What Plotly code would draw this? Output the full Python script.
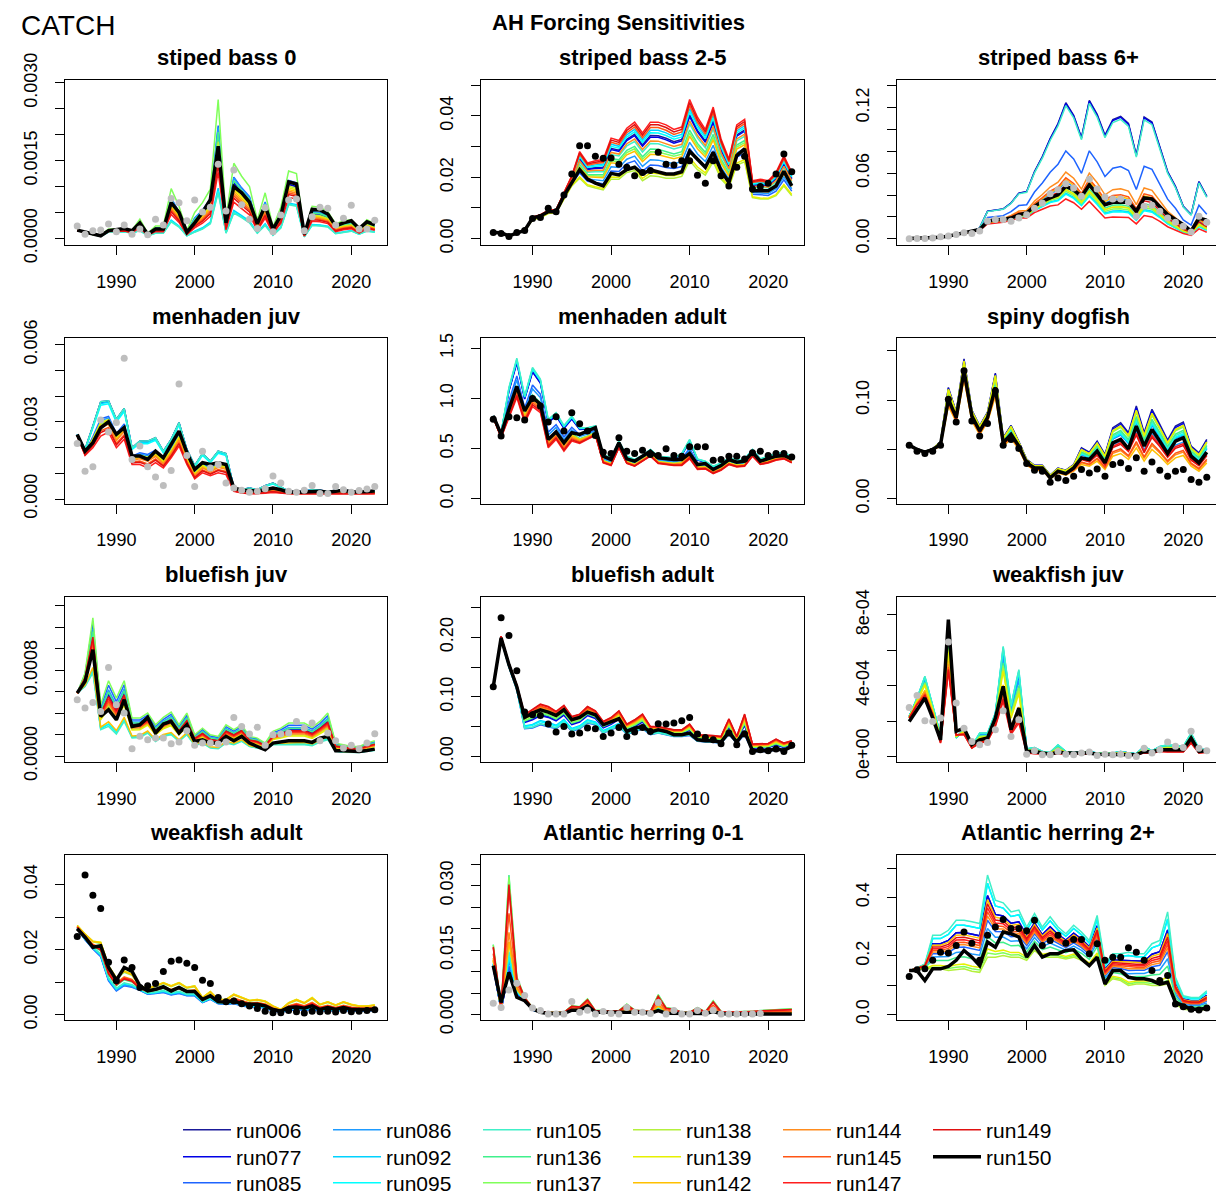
import plotly.graph_objects as go

# ---------------- data ----------------
years = list(range(1985, 2024))

runs = ["run006", "run077", "run085", "run086", "run092", "run095", "run105", "run136",
        "run137", "run138", "run139", "run142", "run144", "run145", "run147", "run149"]
base_run = "run150"

panel_titles = ["stiped bass 0", "striped bass 2-5", "striped bass 6+",
                "menhaden juv", "menhaden adult", "spiny dogfish",
                "bluefish juv", "bluefish adult", "weakfish juv",
                "weakfish adult", "Atlantic herring 0-1", "Atlantic herring 2+"]

# striped bass 0
sb0_obs = [0.00024,0.00008,0.00015,0.00016,0.00028,0.00013,0.00026,0.00008,0.00018,0.00007,
           0.00037,0.00026,0.00077,0.00069,0.00034,0.00074,0.00051,0.0006,0.00143,0.00053,
           0.00132,0.00065,0.00037,0.00019,0.00059,0.00013,0.00045,0.00074,0.00076,0.00015,
           0.00042,0.0006,0.00058,0.00026,0.00039,0.00064,0.00018,0.00018,0.00035]
sb0_base = [0.00016,0.00012,0.00008,0.00005,0.00015,0.00017,0.00019,0.00015,0.0003,0.00008,
            0.00018,0.00018,0.00069,0.0005,0.00012,0.0003,0.0005,0.00075,0.00178,0.0003,
            0.001,0.00088,0.0007,0.00028,0.00063,0.00018,0.00044,0.00109,0.00105,0.00008,
            0.00056,0.00055,0.00047,0.00024,0.0003,0.00034,0.00019,0.00032,0.00026]
sb0_hi = [0.00016,0.00012,0.00008,0.00006,0.00018,0.00018,0.00018,0.00016,0.00037,0.0001,
          0.00024,0.00024,0.00096,0.00062,0.00015,0.0005,0.00069,0.00095,0.00268,0.0004,
          0.00145,0.0012,0.001,0.00035,0.00088,0.00022,0.0006,0.0013,0.00125,0.0001,
          0.00062,0.0006,0.00052,0.00028,0.00034,0.00036,0.00018,0.00036,0.00028]
sb0_lo = [0.00015,0.00011,0.00007,0.00004,0.00012,0.00012,0.00013,0.0001,0.00015,0.00005,
          0.0001,0.0001,0.00032,0.00022,0.00005,0.00012,0.00018,0.00028,0.00088,0.0001,
          0.00049,0.0004,0.0003,0.0001,0.00025,0.00006,0.0002,0.00065,0.00062,0.00003,
          0.00025,0.00024,0.00022,0.00009,0.00012,0.00014,0.00008,0.00014,0.00012]
sb0_pos = [0.6,0.62,0.72,0.7,0.05,0.02,0.0,0.65,1.0,0.55,0.5,0.45,0.4,0.35,0.22,0.3]

# striped bass 2-5
sb25_obs = [0.002,0.0017,0.0007,0.002,0.0027,0.0066,0.0069,0.0099,0.0088,0.0142,
            0.0211,0.0303,0.0303,0.0269,0.0262,0.0263,0.0243,0.0233,0.0205,0.0216,
            0.0222,0.0282,0.0243,0.024,0.0254,0.0254,0.0207,0.0181,0.0254,0.0205,
            0.0172,0.0233,0.0269,0.0162,0.017,0.0181,0.0211,0.0276,0.0218]
sb25_base = [0.002,0.0019,0.0009,0.0019,0.0027,0.0067,0.0074,0.0088,0.0088,0.014,
             0.0183,0.0225,0.0194,0.0181,0.0172,0.0213,0.0208,0.0225,0.0233,0.0211,
             0.0224,0.0216,0.0211,0.0211,0.0218,0.0285,0.0258,0.0233,0.0282,0.0222,
             0.0183,0.0271,0.0293,0.0156,0.0156,0.0156,0.0172,0.022,0.0172]
sb25_hi = [0.002,0.0019,0.001,0.002,0.0028,0.007,0.0078,0.0092,0.0095,0.015,
           0.0205,0.0284,0.0247,0.0254,0.0258,0.0328,0.032,0.036,0.038,0.0345,
           0.038,0.038,0.0371,0.0356,0.0364,0.0454,0.0396,0.0356,0.0429,0.0325,
           0.026,0.0371,0.0389,0.0189,0.0194,0.0189,0.0216,0.027,0.0216]
sb25_lo = [0.0019,0.0018,0.0008,0.0018,0.0025,0.0062,0.0068,0.0082,0.0085,0.0129,
           0.0172,0.0197,0.0172,0.0165,0.0159,0.0194,0.0194,0.0216,0.0222,0.0189,
           0.0205,0.0203,0.0197,0.0197,0.0203,0.0254,0.0225,0.0207,0.0251,0.0194,
           0.0167,0.024,0.0251,0.0134,0.0129,0.0129,0.014,0.0172,0.014]
sb25_pos = [0.75,0.72,0.2,0.3,0.85,0.8,0.6,0.5,0.45,0.0,0.05,0.4,0.65,0.9,1.0,0.95]

# striped bass 6+
sb6_obs = [0.0,0.0003,0.0003,0.0006,0.0018,0.0024,0.0039,0.0055,0.0048,0.007,
           0.016,0.0176,0.0176,0.016,0.019,0.022,0.028,0.0327,0.0412,0.0448,
           0.0503,0.0464,0.0388,0.0545,0.0455,0.0382,0.0364,0.0364,0.0333,0.0206,
           0.0297,0.0306,0.0252,0.019,0.0152,0.0115,0.0061,0.0206,0.0152]
sb6_base = [0.0003,0.0004,0.0006,0.0009,0.0013,0.0024,0.004,0.0055,0.0064,0.0085,
            0.016,0.0176,0.0176,0.019,0.022,0.0236,0.0297,0.0342,0.0373,0.0403,
            0.0479,0.0448,0.0388,0.0494,0.0403,0.0312,0.0333,0.0333,0.0336,0.0252,
            0.0373,0.0364,0.0297,0.0221,0.0176,0.013,0.007,0.019,0.017]
sb6_hi = [0.0003,0.0004,0.0006,0.0009,0.0013,0.0024,0.004,0.0055,0.0064,0.01,
          0.0252,0.0261,0.0273,0.0327,0.0418,0.0433,0.0615,0.0752,0.0918,0.1055,
          0.1245,0.113,0.0927,0.1267,0.1139,0.0948,0.1091,0.1121,0.1055,0.0767,
          0.1115,0.107,0.0842,0.0615,0.0479,0.0297,0.0221,0.0524,0.0388]
sb6_lo = [0.0003,0.0004,0.0006,0.0009,0.0013,0.0024,0.0038,0.005,0.006,0.0075,
          0.0136,0.0145,0.015,0.017,0.019,0.019,0.024,0.027,0.03,0.031,
          0.0364,0.033,0.027,0.0342,0.027,0.019,0.02,0.02,0.0195,0.0136,
          0.0212,0.02,0.016,0.011,0.008,0.0048,0.003,0.009,0.006]
sb6_pos = [1.0,0.99,0.5,0.18,0.06,0.05,0.97,0.12,0.08,0.1,0.1,0.2,0.28,0.22,0.0,0.15]

# menhaden juv
mj_obs = [0.00216,0.00108,0.00125,0.00307,0.0026,0.00297,0.00547,0.00154,0.00206,0.00125,
          0.00086,0.00053,0.00111,0.00447,0.00169,0.00049,0.00186,0.00121,0.00134,0.00062,
          0.00043,0.00034,0.00026,0.0003,0.0004,0.00089,0.00062,0.0003,0.00026,0.00034,
          0.00053,0.00021,0.00021,0.00049,0.00036,0.00026,0.00033,0.00039,0.00049]
mj_base = [0.00251,0.00186,0.00219,0.00277,0.003,0.00251,0.00277,0.00167,0.00167,0.00154,
           0.00186,0.0016,0.00212,0.00264,0.0018,0.00115,0.00141,0.00134,0.00141,0.00134,
           0.00043,0.00034,0.00033,0.00031,0.00036,0.00043,0.00036,0.00027,0.00026,0.00027,
           0.0003,0.0003,0.00026,0.0003,0.00034,0.00027,0.00027,0.00029,0.00031]
mj_hi = [0.00251,0.00193,0.00284,0.00378,0.00382,0.0031,0.00352,0.00199,0.00225,0.00225,
         0.00238,0.00186,0.00232,0.00297,0.00193,0.0013,0.00177,0.00147,0.00186,0.00177,
         0.00043,0.00036,0.00043,0.00036,0.00052,0.00062,0.00047,0.0003,0.00027,0.0003,
         0.00036,0.00034,0.00029,0.00034,0.00036,0.00029,0.00027,0.00029,0.0003]
mj_lo = [0.00245,0.00169,0.00199,0.00245,0.0026,0.00199,0.00232,0.00134,0.00134,0.00121,
         0.00141,0.00121,0.0016,0.00206,0.00134,0.00078,0.00102,0.00091,0.00102,0.00095,
         0.0003,0.00023,0.0002,0.0002,0.00022,0.00025,0.00022,0.0002,0.0002,0.0002,
         0.0002,0.0002,0.0002,0.0002,0.0002,0.0002,0.0002,0.0002,0.0002]
mj_pos = [1.0,0.98,0.5,0.45,0.95,0.9,1.0,0.35,0.35,0.4,0.38,0.3,0.25,0.15,0.0,0.1]

# menhaden adult
ma_obs = [0.792,0.625,0.818,0.808,0.785,0.999,0.925,0.765,0.818,0.675,
          0.858,0.748,0.675,0.631,0.464,0.451,0.608,0.474,0.451,0.484,
          0.441,0.431,0.498,0.431,0.424,0.518,0.518,0.518,0.384,0.391,
          0.424,0.424,0.397,0.458,0.474,0.431,0.451,0.451,0.417]
ma_base = [0.825,0.641,0.892,1.119,0.875,1.009,0.942,0.591,0.665,0.558,
           0.658,0.641,0.675,0.708,0.424,0.391,0.558,0.397,0.374,0.424,
           0.474,0.407,0.397,0.391,0.391,0.451,0.341,0.351,0.291,0.331,
           0.391,0.364,0.374,0.464,0.374,0.397,0.424,0.431,0.397]
ma_hi = [0.825,0.658,1.109,1.4,1.025,1.309,1.192,0.792,0.858,0.731,
         0.825,0.708,0.708,0.725,0.441,0.407,0.574,0.424,0.391,0.431,
         0.491,0.424,0.417,0.407,0.451,0.591,0.397,0.374,0.324,0.357,
         0.407,0.384,0.397,0.491,0.397,0.424,0.451,0.458,0.424]
ma_lo = [0.808,0.608,0.808,1.009,0.758,0.918,0.858,0.508,0.591,0.474,
         0.574,0.551,0.591,0.631,0.357,0.331,0.508,0.351,0.324,0.374,
         0.424,0.351,0.341,0.331,0.331,0.397,0.291,0.297,0.251,0.284,
         0.341,0.317,0.324,0.424,0.341,0.357,0.384,0.397,0.357]
ma_pos = [0.9,0.88,0.55,0.45,0.97,0.95,1.0,0.3,0.25,0.25,0.2,0.22,0.15,0.1,0.0,0.05]

# spiny dogfish
sd_obs = [0.0544,0.0483,0.0459,0.0483,0.0544,0.101,0.0779,0.13,0.0789,0.0636,
          0.0765,0.1095,0.0544,0.0602,0.051,0.0357,0.0289,0.0279,0.0167,0.0211,
          0.0184,0.0228,0.0296,0.0262,0.0303,0.0228,0.0347,0.0364,0.0306,0.0415,
          0.0279,0.0374,0.0289,0.0228,0.0279,0.0296,0.0194,0.0167,0.0218]
sd_base = [0.0544,0.05,0.0473,0.05,0.0551,0.101,0.0823,0.13,0.084,0.0687,
           0.0823,0.113,0.0568,0.0653,0.0534,0.0364,0.0313,0.0313,0.0211,0.0279,
           0.0255,0.0313,0.0415,0.0398,0.0483,0.0364,0.0568,0.0602,0.0507,0.0738,
           0.0534,0.0704,0.0585,0.0459,0.0585,0.0619,0.0432,0.0364,0.0473]
sd_hi = [0.0548,0.0505,0.048,0.0508,0.058,0.113,0.088,0.142,0.09,0.074,
         0.088,0.1276,0.062,0.0745,0.058,0.04,0.034,0.034,0.024,0.031,
         0.029,0.0347,0.0517,0.0473,0.0585,0.0449,0.0721,0.0772,0.067,0.0942,
         0.067,0.0908,0.0755,0.0595,0.0738,0.0779,0.0534,0.0466,0.0602]
sd_lo = [0.054,0.0495,0.0468,0.0495,0.053,0.094,0.078,0.121,0.079,0.065,
         0.078,0.104,0.053,0.061,0.05,0.034,0.029,0.029,0.02,0.026,
         0.024,0.028,0.0347,0.033,0.0381,0.0296,0.0432,0.0459,0.0398,0.0517,
         0.0381,0.05,0.0432,0.0347,0.0415,0.0439,0.033,0.0279,0.0364]
sd_pos = [1.0,0.95,0.6,0.4,0.62,0.65,0.7,0.75,0.85,0.88,0.9,0.0,0.1,0.15,0.35,0.3]

# bluefish juv
bj_obs = [0.000526,0.000448,0.0005,0.000417,0.000827,0.000479,0.000401,0.000068,0.000184,0.000152,
          0.000168,0.000168,0.000115,0.000131,0.000236,0.0001,0.000121,0.000121,0.000112,0.000131,
          0.000361,0.000277,0.000205,0.000268,0.0001,0.000199,0.000205,0.000215,0.000323,0.000261,
          0.000308,0.000143,0.000215,0.000143,0.000075,0.0001,0.000068,0.000121,0.000208]
bj_base = [0.000588,0.000697,0.000992,0.00037,0.000432,0.000339,0.000526,0.000277,0.000292,0.000361,
           0.000215,0.000299,0.000323,0.000215,0.000292,0.000137,0.000152,0.000121,0.000121,0.000184,
           0.000143,0.000184,0.000121,0.00009,0.000059,0.000121,0.000131,0.000143,0.000143,0.000143,
           0.000128,0.000168,0.000184,0.00005,0.00005,0.000044,0.000044,0.000053,0.000065]
bj_hi = [0.000588,0.000775,0.00129,0.000479,0.000703,0.000541,0.000703,0.000355,0.000355,0.000401,
         0.000292,0.000361,0.000411,0.000292,0.000401,0.000199,0.000261,0.000199,0.000184,0.000292,
         0.000246,0.000292,0.000184,0.000168,0.000121,0.00023,0.000261,0.000308,0.000308,0.000308,
         0.000268,0.000323,0.000401,0.000121,0.000106,0.00009,0.00009,0.000121,0.000143]
bj_lo = [0.000588,0.00065,0.000775,0.000246,0.000277,0.000205,0.000323,0.000168,0.000174,0.000215,
         0.000137,0.000184,0.000199,0.000137,0.000199,0.0001,0.000121,0.000075,0.000068,0.000121,
         0.000106,0.000137,0.00009,0.000075,0.000059,0.000106,0.000106,0.000106,0.000106,0.000106,
         0.000096,0.000131,0.000152,0.000044,0.000037,0.000034,0.000034,0.000044,0.000053]
bj_pos = [0.7,0.68,0.9,0.8,0.05,0.05,0.0,0.75,1.0,0.45,0.4,0.1,0.5,0.55,0.6,0.65]

# bluefish adult
ba_obs = [0.117,0.233,0.203,0.144,0.0744,0.0699,0.0688,0.0542,0.0408,0.0503,
          0.0375,0.0391,0.0475,0.0464,0.0336,0.0391,0.0487,0.0336,0.0408,0.0487,
          0.0419,0.0548,0.0542,0.0559,0.0598,0.0654,0.0375,0.0319,0.028,0.0213,
          0.0391,0.0196,0.0375,0.0084,0.0112,0.0095,0.0123,0.0084,0.0185]
ba_base = [0.117,0.199,0.154,0.117,0.0654,0.0727,0.0783,0.0744,0.0688,0.0783,
           0.0615,0.0654,0.0744,0.0699,0.0531,0.0576,0.0632,0.0419,0.0475,0.0503,
           0.0408,0.0447,0.0419,0.0364,0.0364,0.0391,0.028,0.0263,0.0263,0.024,
           0.0408,0.024,0.0419,0.0095,0.0095,0.0095,0.0129,0.0101,0.0168]
ba_hi = [0.117,0.202,0.156,0.12,0.07,0.0783,0.0878,0.0839,0.0755,0.0856,
         0.0671,0.071,0.0839,0.0766,0.0587,0.0654,0.0766,0.0542,0.0615,0.071,
         0.0503,0.0503,0.0475,0.0447,0.0447,0.0542,0.0364,0.0364,0.0352,0.0336,
         0.0632,0.0336,0.071,0.0207,0.0207,0.0218,0.0291,0.0224,0.0263]
ba_lo = [0.117,0.197,0.15,0.112,0.0464,0.0475,0.0531,0.0503,0.0464,0.0559,
         0.0419,0.0464,0.0559,0.0531,0.0391,0.0447,0.0503,0.0375,0.0408,0.0464,
         0.0364,0.0391,0.0364,0.0336,0.0336,0.0352,0.0252,0.024,0.0235,0.0224,
         0.0364,0.0224,0.0364,0.0084,0.0084,0.0084,0.0112,0.0089,0.0151]
ba_pos = [0.5,0.45,0.0,0.05,0.2,0.15,0.05,0.55,0.6,0.7,0.75,0.8,0.85,0.9,0.97,1.0]

# weakfish juv
wj_obs = [0.000277,0.000345,0.000202,0.000198,0.000217,0.000647,0.000302,0.00016,0.000085,0.000066,
          0.000079,0.000151,0.000258,0.000113,0.000208,0.000013,0.000032,0.000009,0.000009,0.000028,
          0.000013,0.000009,0.000019,0.000025,0.000006,0.000013,0.000009,0.000013,0.000006,0.0,
          0.000047,0.000019,0.000038,0.000081,0.000057,0.000051,0.000142,0.000047,0.000032]
wj_base = [0.000198,0.000264,0.00033,0.000217,0.000094,0.000774,0.000142,0.00016,0.000066,0.000094,
           0.000104,0.000217,0.000396,0.000151,0.000274,0.000028,0.000028,0.000019,0.000013,0.000025,
           0.000019,0.000019,0.000019,0.000019,0.000013,0.000013,0.000013,0.000013,0.000013,0.000009,
           0.000028,0.000025,0.000038,0.000038,0.000038,0.000038,0.000104,0.000028,0.000032]
wj_hi = [0.000226,0.00033,0.000453,0.000283,0.000123,0.000679,0.000104,0.000157,0.000057,0.000132,
         0.000132,0.000245,0.000623,0.000292,0.000491,0.000043,0.000051,0.000028,0.000023,0.000066,
         0.000028,0.000023,0.000025,0.000028,0.000019,0.000019,0.000019,0.000028,0.000019,0.000015,
         0.000057,0.000032,0.000057,0.000066,0.000062,0.000057,0.000132,0.000043,0.000038]
wj_lo = [0.000217,0.000292,0.00034,0.000236,0.000075,0.000481,0.000123,0.000123,0.000047,0.000075,
         0.000085,0.00017,0.000311,0.000123,0.000189,0.000019,0.000015,0.000015,0.000012,0.000015,
         0.000015,0.000015,0.000015,0.000015,0.000012,0.000012,0.000012,0.000012,0.000012,0.000009,
         0.000019,0.000018,0.000028,0.000025,0.000025,0.000025,0.000075,0.000019,0.000023]
wj_pos = [0.88,0.9,0.85,0.8,0.98,0.95,1.0,0.7,0.65,0.6,0.55,0.3,0.2,0.12,0.0,0.05]

# weakfish adult
wa_obs = [0.024,0.0429,0.0367,0.0326,0.0161,0.0104,0.0168,0.0145,0.0084,0.0089,
          0.0096,0.0133,0.0164,0.0168,0.0158,0.0145,0.0106,0.0096,0.0053,0.004,
          0.0042,0.0034,0.0027,0.0019,0.0011,0.0006,0.0006,0.0013,0.0009,0.0005,
          0.0011,0.0009,0.0011,0.0008,0.0013,0.0009,0.0011,0.0013,0.0015]
wa_base = [0.0264,0.0238,0.0207,0.0212,0.0145,0.0106,0.0145,0.0133,0.0089,0.0073,
           0.0078,0.0086,0.0073,0.0084,0.0071,0.0071,0.0047,0.0058,0.004,0.0039,
           0.0042,0.0034,0.0032,0.0032,0.0027,0.0016,0.0011,0.0022,0.0024,0.002,
           0.0027,0.0016,0.0022,0.0016,0.0022,0.0016,0.0016,0.0016,0.0016]
wa_hi = [0.0274,0.0248,0.0226,0.0223,0.0151,0.0114,0.0135,0.0125,0.0089,0.0081,
         0.0089,0.0099,0.0089,0.0099,0.0084,0.0089,0.0053,0.0071,0.0047,0.0047,
         0.0063,0.0053,0.0044,0.0047,0.0042,0.0027,0.0016,0.0037,0.0047,0.0037,
         0.0053,0.0032,0.004,0.003,0.004,0.0032,0.0027,0.0027,0.003]
wa_lo = [0.0264,0.023,0.0202,0.0178,0.0104,0.0073,0.0089,0.0084,0.0075,0.0063,
         0.0065,0.0068,0.0061,0.0065,0.0058,0.0058,0.0037,0.0047,0.0034,0.0032,
         0.0034,0.0027,0.0024,0.0024,0.002,0.0011,0.0008,0.0013,0.0016,0.0013,
         0.0016,0.0011,0.0013,0.0011,0.0013,0.0011,0.0011,0.0011,0.0013]
wa_pos = [0.1,0.1,0.0,0.05,0.15,0.15,0.2,0.4,0.9,0.98,1.0,0.95,0.6,0.55,0.5,0.45]

# Atlantic herring 0-1
h01_obs = [0.0026,0.0016,0.0057,0.0073,0.0044,0.0015,0.0009,0.0001,0.0001,0.0001,
           0.003,0.0005,0.001,0.0001,0.0007,0.0002,0.0001,0.0016,0.0005,0.0005,
           0.0002,0.0028,0.0001,0.0009,0.0001,0.0001,0.0009,0.0003,0.001,0.0001,
           0.0001,0.0001,0.0001,0.0001,0.0002,None,None,None,None]
h01_base = [0.0114,0.0028,0.0098,0.004,0.0032,0.0013,0.0005,0.0002,0.0002,0.0002,
            0.001,0.001,0.002,0.0005,0.0005,0.0005,0.0005,0.0007,0.0005,0.0005,
            0.0003,0.0009,0.0003,0.0003,0.0002,0.0002,0.0003,0.0002,0.0007,0.0002,
            0.0001,0.0001,0.0001,0.0001,0.0001,0.0001,0.0001,0.0001,0.0001]
h01_hi = [0.0163,0.0016,0.0325,0.0087,0.004,0.0016,0.0007,0.0005,0.0005,0.0005,
          0.002,0.0018,0.0036,0.0009,0.0009,0.0007,0.0009,0.0024,0.001,0.0009,
          0.0007,0.0046,0.0016,0.0013,0.0005,0.0005,0.0016,0.0006,0.0032,0.0007,
          0.0006,0.0006,0.0007,0.0007,0.0009,0.001,0.001,0.0011,0.0013]
h01_lo = [0.011,0.001,0.0102,0.0048,0.0032,0.001,0.0005,0.0002,0.0002,0.0002,
          0.0009,0.0009,0.0018,0.0005,0.0005,0.0005,0.0005,0.0006,0.0005,0.0005,
          0.0003,0.0008,0.0003,0.0003,0.0002,0.0002,0.0003,0.0002,0.0006,0.0002,
          0.0001,0.0001,0.0001,0.0001,0.0001,0.0001,0.0001,0.0001,0.0001]
h01_pos = [0.0,0.0,0.05,0.1,0.15,0.15,0.2,1.0,0.98,0.3,0.3,0.3,0.4,0.6,0.85,0.9]

# Atlantic herring 2+
h2_obs = [0.13,0.153,0.156,0.185,0.213,0.21,0.236,0.282,0.244,0.185,
          0.271,0.299,0.325,0.294,0.294,0.286,0.322,0.236,0.253,0.271,
          0.244,0.256,0.256,0.208,0.242,0.185,0.196,0.196,0.228,0.213,
          0.185,0.15,0.116,0.133,0.036,0.026,0.018,0.015,0.022]
h2_base = [0.15,0.15,0.116,0.156,0.156,0.164,0.185,0.219,0.196,0.167,
           0.248,0.23,0.282,0.276,0.265,0.196,0.236,0.196,0.208,0.208,
           0.219,0.221,0.19,0.167,0.196,0.104,0.15,0.15,0.127,0.122,
           0.122,0.116,0.104,0.11,0.041,0.03,0.018,0.018,0.021]
h2_hi = [0.15,0.159,0.173,0.271,0.271,0.288,0.322,0.322,0.317,0.311,
         0.477,0.391,0.382,0.351,0.357,0.299,0.345,0.299,0.334,0.299,
         0.276,0.305,0.282,0.253,0.339,0.173,0.208,0.208,0.213,0.208,
         0.208,0.242,0.253,0.351,0.127,0.064,0.058,0.058,0.081]
h2_lo = [0.15,0.156,0.156,0.156,0.156,0.15,0.153,0.156,0.148,0.144,
         0.196,0.196,0.202,0.196,0.196,0.185,0.219,0.196,0.196,0.196,
         0.19,0.196,0.185,0.167,0.196,0.099,0.122,0.116,0.099,0.104,
         0.104,0.099,0.099,0.104,0.036,0.018,0.015,0.015,0.017]
h2_pos = [0.75,0.75,0.45,0.35,0.9,0.9,1.0,0.25,0.05,0.0,0.1,0.7,0.5,0.55,0.6,0.65]

# y tick values / labels
sb0_ticks = [0, 0.0005, 0.001, 0.0015, 0.002, 0.0025, 0.003]
sb0_labels = ["0.0000", "", "", "0.0015", "", "", "0.0030"]
sb25_ticks = [0, 0.01, 0.02, 0.03, 0.04, 0.05]
sb25_labels = ["0.00", "", "0.02", "", "0.04", ""]
sb6_ticks = [0, 0.02, 0.04, 0.06, 0.08, 0.10, 0.12, 0.14]
sb6_labels = ["0.00", "", "", "0.06", "", "", "0.12", ""]
mj_ticks = [0, 0.001, 0.002, 0.003, 0.004, 0.005, 0.006]
mj_labels = ["0.000", "", "", "0.003", "", "", "0.006"]
ma_ticks = [0, 0.5, 1.0, 1.5]
ma_labels = ["0.0", "0.5", "1.0", "1.5"]
sd_ticks = [0, 0.05, 0.10, 0.15]
sd_labels = ["0.00", "", "0.10", ""]
bj_ticks = [0, 0.0002, 0.0004, 0.0006, 0.0008, 0.001, 0.0012, 0.0014]
bj_labels = ["0.0000", "", "", "", "0.0008", "", "", ""]
ba_ticks = [0, 0.05, 0.10, 0.15, 0.20, 0.25]
ba_labels = ["0.00", "", "0.10", "", "0.20", ""]
wj_ticks = [0, 0.0002, 0.0004, 0.0006, 0.0008]
wj_labels = ["0e+00", "", "4e-04", "", "8e-04"]
wa_ticks = [0, 0.01, 0.02, 0.03, 0.04]
wa_labels = ["0.00", "", "0.02", "", "0.04"]
h01_ticks = [0, 0.005, 0.01, 0.015, 0.02, 0.025, 0.03, 0.035]
h01_labels = ["0.000", "", "", "0.015", "", "", "0.030", ""]
h2_ticks = [0, 0.1, 0.2, 0.3, 0.4, 0.5]
h2_labels = ["0.0", "", "0.2", "", "0.4", ""]
x_ticks = [1990, 2000, 2010, 2020]

# ---------------- styles ----------------
run_colors = ["#1a1a9a", "#0000e6", "#1e64ff", "#1e9bff", "#00d2ff", "#00ffff",
              "#40f0c8", "#40f08c", "#80ff5a", "#b4f03c", "#e6f000", "#ffc000",
              "#ff8c1e", "#ff5514", "#ff1e1e", "#e01010"]

y_ranges = [[-0.000135, 0.00306], [-0.0022, 0.0518], [-0.0061, 0.1455],
            [-0.000184, 0.00625], [-0.05, 1.60], [-0.0051, 0.163],
            [-0.000056, 0.001488], [-0.0096, 0.2685], [-0.000032, 0.000904],
            [-0.00176, 0.0491], [-0.0014, 0.0372], [-0.0206, 0.546]]

panels = [
    (sb0_obs, sb0_base, sb0_hi, sb0_lo, sb0_pos, "#bebebe", sb0_ticks, sb0_labels),
    (sb25_obs, sb25_base, sb25_hi, sb25_lo, sb25_pos, "black", sb25_ticks, sb25_labels),
    (sb6_obs, sb6_base, sb6_hi, sb6_lo, sb6_pos, "#bebebe", sb6_ticks, sb6_labels),
    (mj_obs, mj_base, mj_hi, mj_lo, mj_pos, "#bebebe", mj_ticks, mj_labels),
    (ma_obs, ma_base, ma_hi, ma_lo, ma_pos, "black", ma_ticks, ma_labels),
    (sd_obs, sd_base, sd_hi, sd_lo, sd_pos, "black", sd_ticks, sd_labels),
    (bj_obs, bj_base, bj_hi, bj_lo, bj_pos, "#bebebe", bj_ticks, bj_labels),
    (ba_obs, ba_base, ba_hi, ba_lo, ba_pos, "black", ba_ticks, ba_labels),
    (wj_obs, wj_base, wj_hi, wj_lo, wj_pos, "#bebebe", wj_ticks, wj_labels),
    (wa_obs, wa_base, wa_hi, wa_lo, wa_pos, "black", wa_ticks, wa_labels),
    (h01_obs, h01_base, h01_hi, h01_lo, h01_pos, "#bebebe", h01_ticks, h01_labels),
    (h2_obs, h2_base, h2_hi, h2_lo, h2_pos, "black", h2_ticks, h2_labels),
]

W, H = 1224, 1196
OFF = 8  # page body margin of the html page
col_px = [(65, 387), (481, 804), (897, 1219)]
row_px = [(80, 246), (339, 505), (598, 764), (857, 1023)]
FONT = "Liberation Sans, Arial, sans-serif"


def px_x(v):
    return (v - OFF) / W


def px_y(v):
    return 1 - (v - OFF) / H


legend_ids = ["legend", "legend2", "legend3"]

fig = go.Figure()
layout = {}
annotations = []

for i, (obs, base, hi, lo, pos, obs_col, tv, tt) in enumerate(panels):
    r, c = divmod(i, 3)
    n = "" if i == 0 else str(i + 1)
    xa, ya = "x" + n, "y" + n
    x0, x1 = col_px[c]
    y0, y1 = row_px[r]
    layout["xaxis" + n] = dict(
        domain=[px_x(x0), px_x(x1)], anchor=ya, range=[1983.44, 2024.56], automargin=False,
        tickmode="array", tickvals=x_ticks, ticks="outside", ticklen=9, tickwidth=1,
        tickcolor="black", showline=True, mirror=True, linecolor="black", linewidth=1,
        showgrid=False, zeroline=False, ticklabelstandoff=11,
        tickfont=dict(family=FONT, size=18, color="black"))
    layout["yaxis" + n] = dict(
        domain=[px_y(y1), px_y(y0)], anchor=xa, range=y_ranges[i], automargin=False,
        tickmode="array", tickvals=tv, ticktext=tt, tickangle=-90,
        ticks="outside", ticklen=9, tickwidth=1, tickcolor="black",
        showline=True, mirror=True, linecolor="black", linewidth=1,
        showgrid=False, zeroline=False, ticklabelstandoff=11,
        tickfont=dict(family=FONT, size=18, color="black"))
    annotations.append(dict(
        text="<b>" + panel_titles[i] + "</b>", x=px_x((x0 + x1) / 2), y=px_y(y0 - 22),
        xref="paper", yref="paper", xanchor="center", yanchor="middle", showarrow=False,
        font=dict(family=FONT, size=22, color="black")))

    for k, name in enumerate(runs):
        p = pos[k]
        vals = [l + p * (h - l) for l, h in zip(lo, hi)]
        fig.add_trace(go.Scatter(
            x=years, y=vals, mode="lines", name=name,
            line=dict(color=run_colors[k], width=1.5),
            xaxis=xa, yaxis=ya, legendgroup=name, showlegend=(i == 0),
            legend=legend_ids[k % 3], legendrank=k // 3, hoverinfo="skip"))
    kb = len(runs)
    fig.add_trace(go.Scatter(
        x=years, y=base, mode="lines", name=base_run,
        line=dict(color="black", width=3.5),
        xaxis=xa, yaxis=ya, legendgroup=base_run, showlegend=(i == 0),
        legend=legend_ids[kb % 3], legendrank=kb // 3, hoverinfo="skip"))
    fig.add_trace(go.Scatter(
        x=years, y=obs, mode="markers", name="obs",
        marker=dict(color=obs_col, size=7),
        xaxis=xa, yaxis=ya, showlegend=False, hoverinfo="skip"))

annotations.append(dict(text="CATCH", x=px_x(20), y=px_y(9), xref="paper", yref="paper",
                        xanchor="left", yanchor="top", showarrow=False, borderpad=0,
                        font=dict(family=FONT, size=28, color="black")))
annotations.append(dict(text="<b>AH Forcing Sensitivities</b>", x=px_x(618), y=px_y(9),
                        xref="paper", yref="paper", xanchor="center", yanchor="top",
                        showarrow=False, borderpad=0,
                        font=dict(family=FONT, size=22, color="black")))

legend_rows_px = [1133, 1160, 1186]
for j, lid in enumerate(legend_ids):
    layout[lid] = dict(
        orientation="h", x=px_x(178), y=px_y(legend_rows_px[j]), xanchor="left",
        yanchor="middle", entrywidth=87, entrywidthmode="pixels", itemwidth=48,
        bgcolor="rgba(0,0,0,0)", borderwidth=0, tracegroupgap=0,
        font=dict(family=FONT, size=21, color="black"))

fig.update_layout(
    template="none",
    width=W, height=H, margin=dict(l=0, r=0, t=0, b=0, pad=0),
    paper_bgcolor="white", plot_bgcolor="white",
    annotations=annotations, **layout)

fig.write_html("out.html")
